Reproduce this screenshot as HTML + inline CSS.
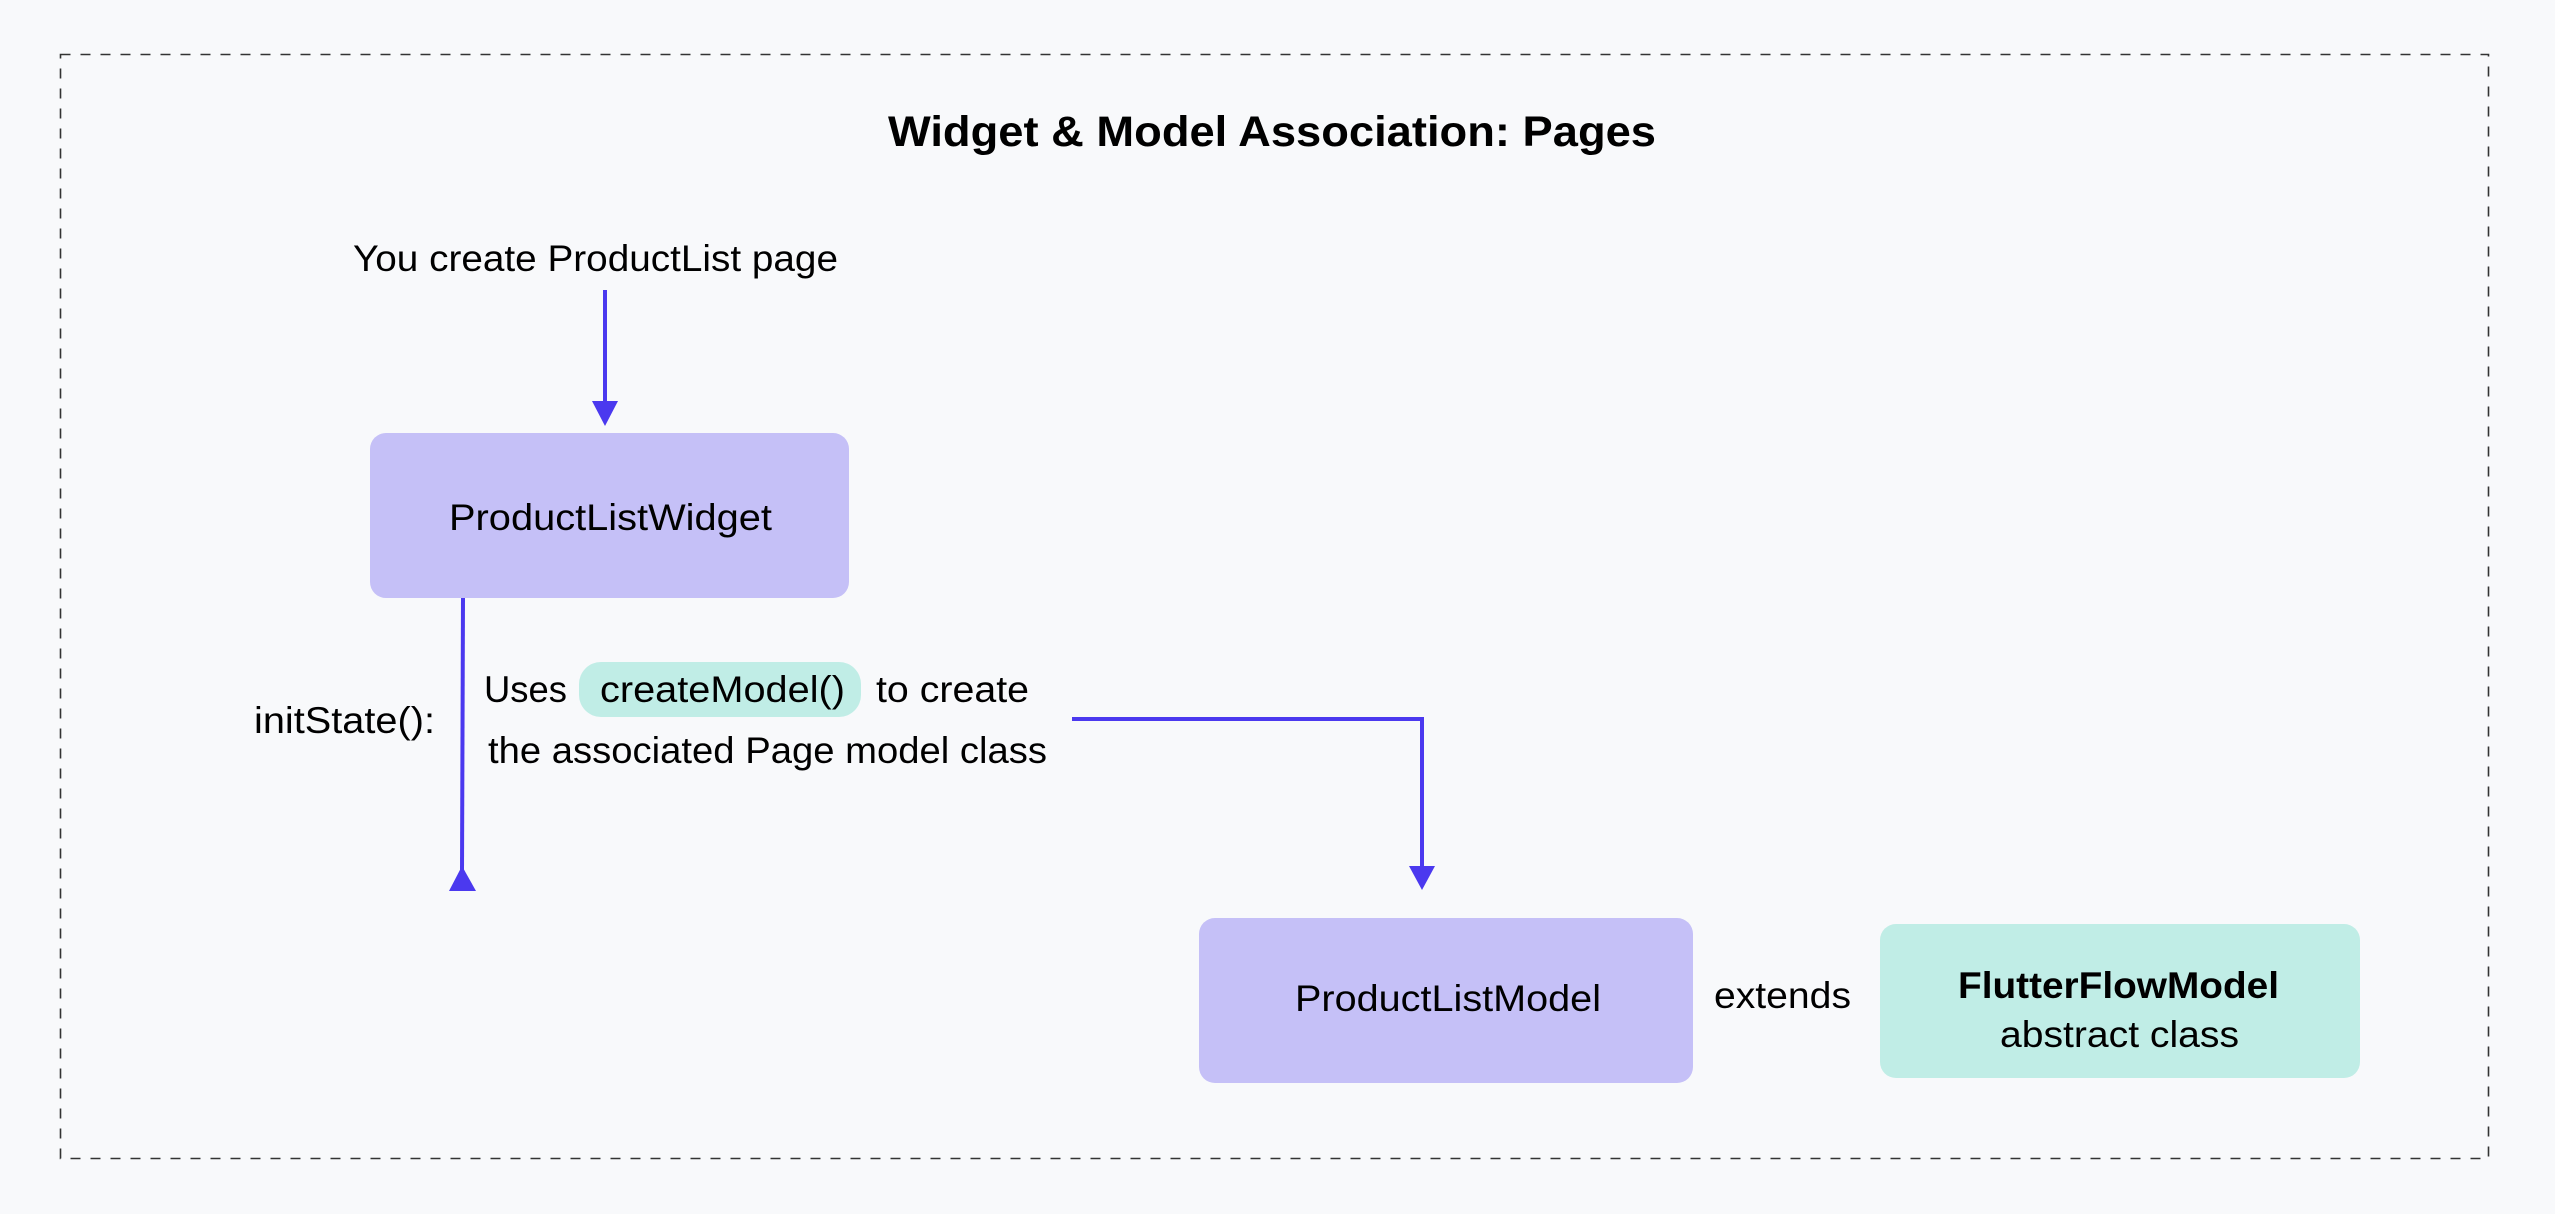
<!DOCTYPE html>
<html><head><meta charset="utf-8"><style>
html,body{margin:0;padding:0;background:#f8f9fb;}
svg{display:block;}
text{font-family:"Liberation Sans",sans-serif;fill:#000;}
</style></head><body>
<svg width="2555" height="1214" viewBox="0 0 2555 1214" xmlns="http://www.w3.org/2000/svg">
<rect x="0" y="0" width="2555" height="1214" fill="#f8f9fb"/>
<rect x="60.5" y="54.5" width="2428" height="1104" fill="none" stroke="#333" stroke-width="1.6" stroke-dasharray="10 10"/>
<text x="888" y="146" font-size="43" font-weight="bold" textLength="768" lengthAdjust="spacingAndGlyphs">Widget &amp; Model Association: Pages</text>
<text x="353" y="271" font-size="37" textLength="485" lengthAdjust="spacingAndGlyphs">You create ProductList page</text>
<!-- arrow 1 -->
<line x1="605" y1="290" x2="605" y2="405" stroke="#4b39ef" stroke-width="4"/>
<polygon points="592,401 618,401 605,426" fill="#4b39ef"/>
<!-- widget box -->
<rect x="370" y="433" width="479" height="165" rx="16" fill="#c5c0f7"/>
<text x="449" y="530" font-size="37" textLength="323" lengthAdjust="spacingAndGlyphs">ProductListWidget</text>
<!-- widget down line with up arrow -->
<line x1="463" y1="598" x2="462" y2="870" stroke="#4b39ef" stroke-width="4"/>
<polygon points="462,866 449,891 476,891" fill="#4b39ef"/>
<text x="254" y="733" font-size="37" textLength="181" lengthAdjust="spacingAndGlyphs">initState():</text>
<text x="484" y="702" font-size="37" textLength="83" lengthAdjust="spacingAndGlyphs">Uses</text>
<rect x="579" y="662" width="282" height="55" rx="22" fill="#c0ede6"/>
<text x="600" y="702" font-size="37" textLength="245" lengthAdjust="spacingAndGlyphs">createModel()</text>
<text x="876" y="702" font-size="37" textLength="153" lengthAdjust="spacingAndGlyphs">to create</text>
<text x="488" y="763" font-size="37" textLength="559" lengthAdjust="spacingAndGlyphs">the associated Page model class</text>
<!-- connector to model -->
<polyline points="1072,719 1422,719 1422,870" fill="none" stroke="#4b39ef" stroke-width="4"/>
<polygon points="1409,866 1435,866 1422,890" fill="#4b39ef"/>
<!-- model box -->
<rect x="1199" y="918" width="494" height="165" rx="16" fill="#c5c0f7"/>
<text x="1295" y="1011" font-size="37" textLength="306" lengthAdjust="spacingAndGlyphs">ProductListModel</text>
<text x="1714" y="1008" font-size="37" textLength="137" lengthAdjust="spacingAndGlyphs">extends</text>
<rect x="1880" y="924" width="480" height="154" rx="16" fill="#c0ede6"/>
<text x="1958" y="998" font-size="37" font-weight="bold" textLength="321" lengthAdjust="spacingAndGlyphs">FlutterFlowModel</text>
<text x="2000" y="1047" font-size="37" textLength="239" lengthAdjust="spacingAndGlyphs">abstract class</text>
</svg>
</body></html>
